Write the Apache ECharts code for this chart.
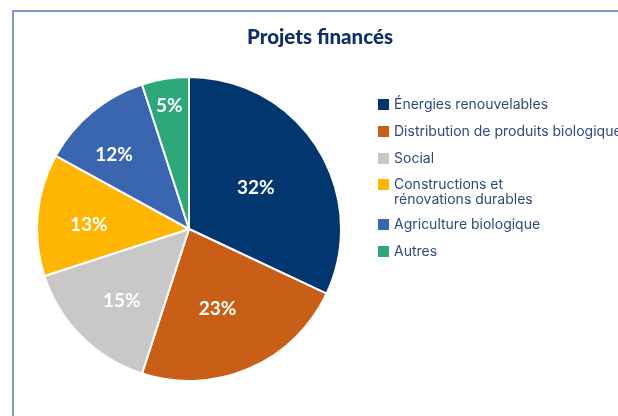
<!DOCTYPE html>
<html>
<head>
<meta charset="utf-8">
<script src="https://cdn.jsdelivr.net/npm/echarts@6/dist/echarts.min.js"></script>
<style>
  html, body { margin: 0; padding: 0; background: #fff; }
  #chart { width: 618px; height: 416px; }
</style>
</head>
<body>
<div id="chart"></div>
<script>
// Funded projects by sector (share of total, %)
const categories = [
  'Énergies renouvelables',
  'Distribution de produits biologiques',
  'Social',
  'Constructions et\nrénovations durables',
  'Agriculture biologique',
  'Autres'
];
const shares = [32, 23, 15, 13, 12, 5];
const sliceColors = ['#02366f', '#c95f17', '#c9c8c7', '#ffb600', '#3a66b0', '#2ea87a'];

// Where each percentage sits: distance out (fraction of the radius)
// and a small turn (degrees) away from the slice's mid-line
const labelReach = [0.50, 0.53, 0.62, 0.64, 0.68, 0.81];
const labelTurn = [0, 3.5, -1.3, -2.4, -5.4, 0];
const pieRadius = 152;

const total = shares.reduce((a, b) => a + b, 0);
const midAngles = [];
let acc = 0;
shares.forEach(v => {
  midAngles.push((acc + v / 2) / total * Math.PI * 2);
  acc += v;
});

const chart = echarts.init(document.getElementById('chart'), null, { renderer: 'canvas' });

const legendBase = {
  orient: 'vertical',
  left: 378,
  padding: 0,
  itemWidth: 11,
  itemHeight: 11,
  itemGap: 12,
  icon: 'rect',
  selectedMode: false,
  itemStyle: { borderWidth: 0 },
  textStyle: {
    fontFamily: 'Inter',
    fontSize: 14,
    lineHeight: 15,
    color: '#2e4a7c'
  }
};

chart.setOption({
  backgroundColor: '#ffffff',
  color: sliceColors,
  title: {
    text: 'Projets financés',
    left: 242,
    top: 22,
    textStyle: {
      fontFamily: 'Lato',
      fontWeight: 900,
      fontSize: 20.5,
      color: '#0f2f66'
    }
  },
  legend: [
    Object.assign({}, legendBase, { top: 97, data: categories.slice(0, 3) }),
    // two-line entry: a leading blank line keeps the swatch level with the first line
    Object.assign({}, legendBase, {
      top: 162,
      data: [categories[3]],
      formatter: name => '\n' + name
    }),
    Object.assign({}, legendBase, { top: 217, data: categories.slice(4) })
  ],
  graphic: [{
    type: 'polyline',
    silent: true,
    shape: { points: [[13, 420], [13, 11], [620, 11]] },
    style: { stroke: '#5a7aae', lineWidth: 1.5, fill: null }
  }],
  series: [{
    type: 'pie',
    center: [189, 229],
    radius: pieRadius,
    startAngle: 90,
    clockwise: true,
    avoidLabelOverlap: false,
    itemStyle: { borderColor: '#ffffff', borderWidth: 2 },
    label: {
      show: true,
      position: 'inside',
      formatter: '{c}%',
      color: '#ffffff',
      fontFamily: 'Lato',
      fontWeight: 'bold',
      fontSize: 19
    },
    labelLine: { show: false },
    labelLayout: function (p) {
      const i = p.dataIndex;
      const a = midAngles[i];
      const b = a + labelTurn[i] * Math.PI / 180;
      const r = labelReach[i] * pieRadius;
      const r0 = 0.5 * pieRadius;
      return {
        dx: r * Math.sin(b) - r0 * Math.sin(a),
        dy: -(r * Math.cos(b) - r0 * Math.cos(a)) + 1.5
      };
    },
    emphasis: { disabled: true },
    data: categories.map((name, i) => ({ name: name, value: shares[i] }))
  }]
});
</script>
</body>
</html>
